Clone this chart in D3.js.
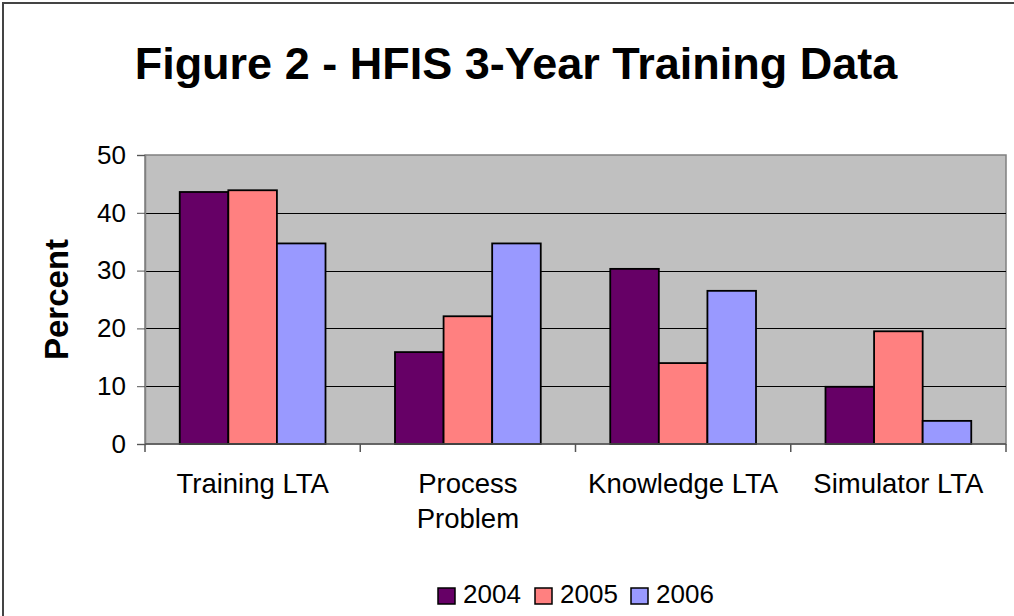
<!DOCTYPE html>
<html>
<head>
<meta charset="utf-8">
<script src="https://cdn.jsdelivr.net/npm/d3@7"></script>
<style>
  body { margin: 0; background: #fff; }
  svg { display: block; font-family: 'Liberation Sans', Arial, sans-serif; }
</style>
</head>
<body>
<div id="chart"></div>
<script>
const categories = ['Training LTA', 'Process Problem', 'Knowledge LTA', 'Simulator LTA'];
const years = ['2004', '2005', '2006'];
const values2004 = [43.6, 15.9, 30.3, 9.9];
const values2005 = [43.9, 22.1, 14.0, 19.5];
const values2006 = [34.7, 34.7, 26.5, 4.0];
const yTicks = [0, 10, 20, 30, 40, 50];
const colors = ['#660066', '#ff8080', '#9999ff'];

const series = [values2004, values2005, values2006];
const width = 1014;
const height = 616;
const margin = { top: 155, right: 8, bottom: 172, left: 145 };

const svg = d3.select('#chart')
  .append('svg')
  .attr('width', width)
  .attr('height', height);

// outer chart border (right and bottom fall off the picture)
svg.append('rect')
  .attr('x', 3).attr('y', 3)
  .attr('width', width + 20).attr('height', height + 20)
  .attr('fill', '#fff')
  .attr('stroke', '#444')
  .attr('stroke-width', 2);

svg.append('text')
  .attr('x', 516)
  .attr('y', 79)
  .attr('text-anchor', 'middle')
  .attr('font-size', 45)
  .attr('font-weight', 'bold')
  .text('Figure 2 - HFIS 3-Year Training Data');

const x0 = d3.scaleBand()
  .domain(categories)
  .range([margin.left, width - margin.right]);

const x1 = d3.scaleBand()
  .domain(years)
  .range([0, x0.bandwidth()])
  .paddingOuter(0.715)
  .paddingInner(0);

const y = d3.scaleLinear()
  .domain([0, 50])
  .range([height - margin.bottom, margin.top]);

const plot = svg.append('g');

plot.append('rect')
  .attr('x', margin.left)
  .attr('y', margin.top)
  .attr('width', width - margin.right - margin.left)
  .attr('height', y(0) - margin.top)
  .attr('fill', '#c0c0c0')
  .attr('stroke', '#808080')
  .attr('stroke-width', 1.5);

plot.append('g')
  .selectAll('line')
  .data(yTicks.filter((d) => d > 0 && d < 50))
  .join('line')
  .attr('x1', margin.left)
  .attr('x2', width - margin.right)
  .attr('y1', (d) => Math.round(y(d)) + 0.5)
  .attr('y2', (d) => Math.round(y(d)) + 0.5)
  .attr('stroke', '#000')
  .attr('stroke-width', 1);

// bars
const groups = plot.append('g')
  .selectAll('g')
  .data(categories)
  .join('g')
  .attr('transform', (d) => `translate(${x0(d)},0)`);

groups.selectAll('rect')
  .data((d, i) => years.map((yr, j) => ({ yr, j, v: series[j][i] })))
  .join('rect')
  .attr('x', (d) => x1(d.yr))
  .attr('y', (d) => y(d.v))
  .attr('width', x1.bandwidth())
  .attr('height', (d) => y(0) - y(d.v))
  .attr('fill', (d) => colors[d.j])
  .attr('stroke', '#000')
  .attr('stroke-width', 1.8);

// y axis
const yAxis = svg.append('g')
  .attr('transform', `translate(${margin.left},0)`)
  .call(d3.axisLeft(y).tickValues(yTicks).tickSize(8).tickPadding(11));
yAxis.select('.domain').attr('stroke', '#808080').attr('stroke-width', 1.5);
yAxis.selectAll('.tick line').attr('stroke', '#555');
yAxis.selectAll('text')
  .attr('font-size', 26)
  .attr('fill', '#000')
  .attr('font-family', "'Liberation Sans', Arial, sans-serif");

// x axis ticks at category boundaries
const bounds = categories.map((c) => x0(c)).concat([width - margin.right]);
svg.append('line')
  .attr('x1', margin.left).attr('x2', width - margin.right)
  .attr('y1', y(0)).attr('y2', y(0))
  .attr('stroke', '#555').attr('stroke-width', 1.5);
svg.append('g')
  .selectAll('line')
  .data(bounds)
  .join('line')
  .attr('x1', (d) => d).attr('x2', (d) => d)
  .attr('y1', y(0)).attr('y2', y(0) + 8)
  .attr('stroke', '#555').attr('stroke-width', 1.5);

const xLabels = [['Training LTA'], ['Process', 'Problem'], ['Knowledge LTA'], ['Simulator LTA']];
svg.append('g')
  .selectAll('text')
  .data(categories)
  .join('text')
  .attr('x', (d) => x0(d) + x0.bandwidth() / 2)
  .attr('y', 493)
  .attr('text-anchor', 'middle')
  .attr('font-size', 27.5)
  .selectAll('tspan')
  .data((d, i) => xLabels[i])
  .join('tspan')
  .attr('x', function () { return d3.select(this.parentNode).attr('x'); })
  .attr('dy', (d, i) => (i === 0 ? 0 : 35))
  .text((d) => d);

svg.append('text')
  .attr('transform', `translate(68,${(margin.top + y(0)) / 2}) rotate(-90)`)
  .attr('text-anchor', 'middle')
  .attr('font-size', 33)
  .attr('font-weight', 'bold')
  .text('Percent');

// legend
const legendX = [438, 535, 631];
const legend = svg.append('g')
  .selectAll('g')
  .data(years)
  .join('g')
  .attr('transform', (d, i) => `translate(${legendX[i]},588)`);
legend.append('rect')
  .attr('width', 17).attr('height', 16)
  .attr('fill', (d, i) => colors[i])
  .attr('stroke', '#000').attr('stroke-width', 1.5);
legend.append('text')
  .attr('x', 25).attr('y', 15)
  .attr('font-size', 26)
  .text((d) => d);
</script>
</body>
</html>
